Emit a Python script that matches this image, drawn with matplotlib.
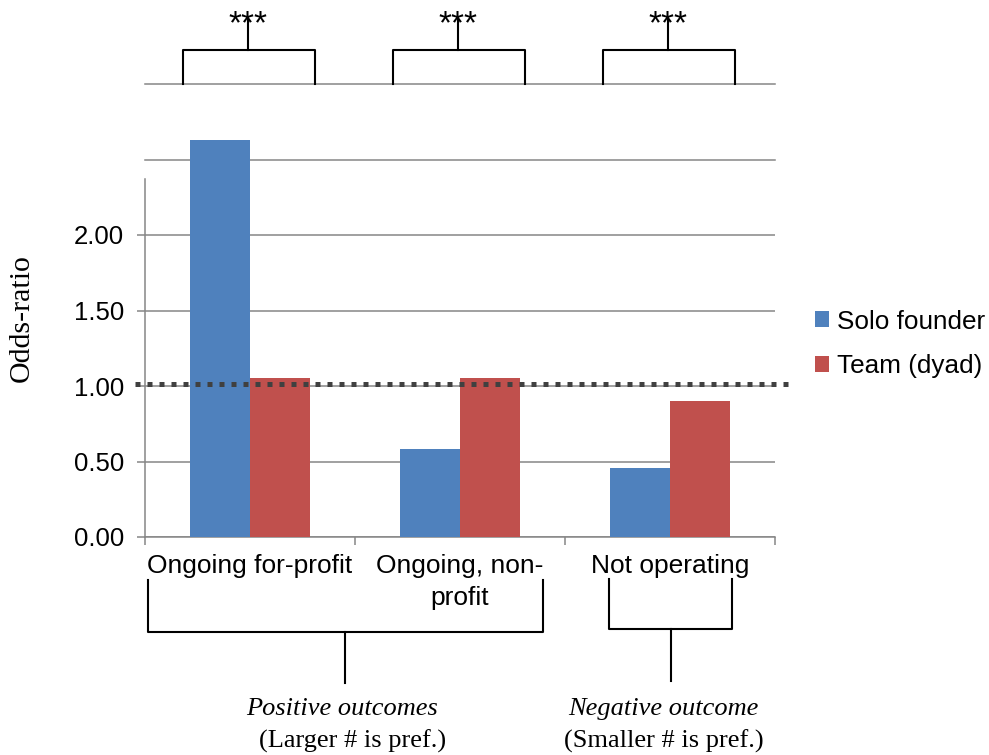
import matplotlib.pyplot as plt
import numpy as np

plt.rcParams['font.family'] = ['Liberation Sans', 'DejaVu Sans']

# Odds-ratios by outcome
categories = ['Ongoing for-profit', 'Ongoing, non-\nprofit', 'Not operating']
solo = [2.63, 0.58, 0.46]
team = [1.05, 1.05, 0.90]
series_names = ['Solo founder', 'Team (dyad)']
yticks = [0.0, 0.5, 1.0, 1.5, 2.0]
ref_line = 1.01
stars = ['***', '***', '***']

blue = '#4F81BD'
red = '#C0504D'
grid_c = '#868686'

fig = plt.figure(figsize=(9.89, 7.55), dpi=100)
ax = fig.add_axes([145 / 989, 1 - 537 / 755, 630 / 989, 453 / 755])

x = np.arange(len(categories))
w = 0.286
ax.bar(x - w / 2, solo, w, color=blue, label=series_names[0], zorder=3)
ax.bar(x + w / 2, team, w, color=red, label=series_names[1], zorder=3)

ax.set_xlim(-0.5, 2.5)
ax.set_ylim(0, 3.0)

# gridlines (upper two have no labels)
ax.set_yticks(yticks)
ax.set_yticklabels(['%.2f' % v for v in yticks], fontsize=18.5)
ax.yaxis.grid(True, color=grid_c, lw=1.1, zorder=0)
for g in (2.5, 3.0):
    ax.axhline(g, color=grid_c, lw=1.1, zorder=0, clip_on=False)

for s in ('top', 'right'):
    ax.spines[s].set_visible(False)
ax.spines['left'].set_color(grid_c)
ax.spines['left'].set_linewidth(1.1)
ax.spines['left'].set_bounds(0, 2.37)
ax.spines['bottom'].set_color(grid_c)
ax.spines['bottom'].set_linewidth(1.1)
ax.tick_params(axis='y', length=6, width=1.1, color=grid_c, pad=9)

# category labels between boundary ticks
ax.set_xticks(x)
ax.set_xticklabels(categories, fontsize=19, linespacing=1.45)
ax.tick_params(axis='x', which='major', length=0, pad=12)
ax.set_xticks(np.arange(-0.5, 3.0, 1.0), minor=True)
ax.tick_params(axis='x', which='minor', length=6, width=1.1, color=grid_c)

# dotted reference line at odds-ratio 1
ax.plot([-0.548, 2.595], [ref_line, ref_line], color='#404040', lw=3.6,
        linestyle=(0, (1, 1.4)), zorder=4, clip_on=False)

# significance brackets above each pair
for i, s in enumerate(stars):
    xs = [i - 0.32, i - 0.32, i + 0.31, i + 0.31]
    ax.plot(xs, [3.0, 3.225, 3.225, 3.0], color='black', lw=1.5, clip_on=False)
    ax.plot([i - 0.01, i - 0.01], [3.225, 3.44], color='black', lw=1.5, clip_on=False)
    ax.text(i - 0.01, 3.39, s, ha='center', va='center', fontsize=24, clip_on=False)

# outcome group brackets below the axis
ax.plot([-0.486, -0.486, 1.395, 1.395], [-0.285, -0.63, -0.63, -0.285],
        color='black', lw=1.5, clip_on=False)
ax.plot([0.452, 0.452], [-0.63, -0.967], color='black', lw=1.5, clip_on=False)
ax.plot([1.71, 1.71, 2.295, 2.295], [-0.278, -0.609, -0.609, -0.278],
        color='black', lw=1.5, clip_on=False)
ax.plot([2.005, 2.005], [-0.609, -0.954], color='black', lw=1.5, clip_on=False)

serif = ['Liberation Serif', 'DejaVu Serif']
ax.text(0.44, -1.14, 'Positive outcomes', ha='center', va='center',
        fontsize=19, style='italic', family=serif, clip_on=False)
ax.text(0.49, -1.35, '(Larger # is pref.)', ha='center', va='center',
        fontsize=19, family=serif, clip_on=False)
ax.text(1.97, -1.14, 'Negative outcome', ha='center', va='center',
        fontsize=19, style='italic', family=serif, clip_on=False)
ax.text(1.97, -1.35, '(Smaller # is pref.)', ha='center', va='center',
        fontsize=19, family=serif, clip_on=False)

fig.text(22 / 989, 1 - 318 / 755, 'Odds-ratio', rotation=90, ha='center',
         va='center', fontsize=21.5, family=serif)

ax.legend(loc='center left', bbox_to_anchor=(815 / 989, 1 - 344 / 755),
          bbox_transform=fig.transFigure, frameon=False, fontsize=18.8,
          handlelength=0.55, handleheight=0.55, handletextpad=0.3,
          labelspacing=0.8, borderaxespad=0, borderpad=0)

fig.savefig('out.png', dpi=100)
